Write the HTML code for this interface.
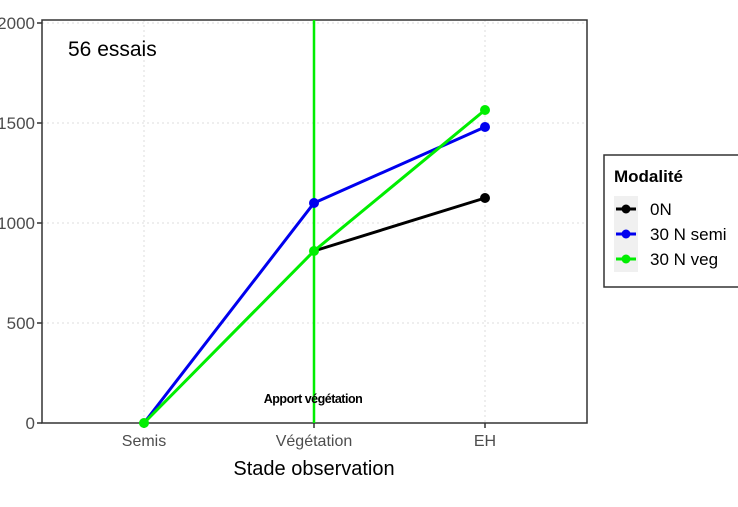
<!DOCTYPE html><html><head><style>body{margin:0;background:#fff}svg{display:block}</style></head><body>
<svg width="738" height="507" xmlns="http://www.w3.org/2000/svg" font-family="Liberation Sans, sans-serif">
<g stroke="#ddd" stroke-dasharray="2,3" stroke-width="1">
<line x1="42" x2="587" y1="23" y2="23"/><line x1="42" x2="587" y1="123" y2="123"/><line x1="42" x2="587" y1="223" y2="223"/><line x1="42" x2="587" y1="323" y2="323"/>
<line x1="144" x2="144" y1="20" y2="423"/><line x1="485" x2="485" y1="20" y2="423"/><line x1="314" x2="314" y1="20" y2="423"/>
</g>
<rect x="42" y="20" width="545" height="403" fill="none" stroke="#333" stroke-width="1.5"/>
<g stroke="#333" stroke-width="1.5"><line x1="37" x2="42" y1="23" y2="23"/><line x1="37" x2="42" y1="123" y2="123"/><line x1="37" x2="42" y1="223" y2="223"/><line x1="37" x2="42" y1="323" y2="323"/><line x1="37" x2="42" y1="423" y2="423"/>
<line x1="144" x2="144" y1="423" y2="428"/><line x1="314" x2="314" y1="423" y2="428"/><line x1="485" x2="485" y1="423" y2="428"/></g>
<g font-size="17" fill="#4d4d4d" text-anchor="end"><text x="35" y="29">2000</text><text x="35" y="129">1500</text><text x="35" y="229">1000</text><text x="35" y="329">500</text><text x="35" y="429">0</text></g>
<g font-size="16" fill="#4d4d4d" text-anchor="middle"><text x="144" y="446">Semis</text><text x="314" y="446">Végétation</text><text x="485" y="446">EH</text></g>
<text x="314" y="475" font-size="20" text-anchor="middle" fill="#000">Stade observation</text>
<text x="68" y="56" font-size="21" fill="#000">56 essais</text>
<line x1="314" x2="314" y1="20" y2="423" stroke="#00ee00" stroke-width="2.5"/>
<text x="313" y="403" font-size="12.5" font-weight="bold" text-anchor="middle" letter-spacing="-0.5">Apport végétation</text>
<polyline points="314,251 485,198" fill="none" stroke="#000" stroke-width="3"/>
<polyline points="144,423 314,203 485,127" fill="none" stroke="#0000ee" stroke-width="3"/>
<polyline points="144,423 314,251 485,110" fill="none" stroke="#00ee00" stroke-width="3"/>
<g fill="#000"><circle cx="485" cy="198" r="5"/></g>
<g fill="#0000ee"><circle cx="314" cy="203" r="5"/><circle cx="485" cy="127" r="5"/></g>
<g fill="#00ee00"><circle cx="144" cy="423" r="5"/><circle cx="314" cy="251" r="5"/><circle cx="485" cy="110" r="5"/></g>
<rect x="604" y="155" width="140" height="132" fill="#fff" stroke="#333" stroke-width="1.5"/>
<text x="614" y="182" font-size="17" font-weight="bold">Modalité</text>
<rect x="614" y="196" width="24" height="76" fill="#f0f0f0"/>
<g stroke-width="3"><line x1="616" x2="636" y1="209" y2="209" stroke="#000"/><line x1="616" x2="636" y1="234" y2="234" stroke="#0000ee"/><line x1="616" x2="636" y1="259" y2="259" stroke="#00ee00"/></g>
<circle cx="626" cy="209" r="4.5" fill="#000"/><circle cx="626" cy="234" r="4.5" fill="#0000ee"/><circle cx="626" cy="259" r="4.5" fill="#00ee00"/>
<g font-size="17"><text x="650" y="215">0N</text><text x="650" y="240">30 N semi</text><text x="650" y="265">30 N veg</text></g>
</svg></body></html>
